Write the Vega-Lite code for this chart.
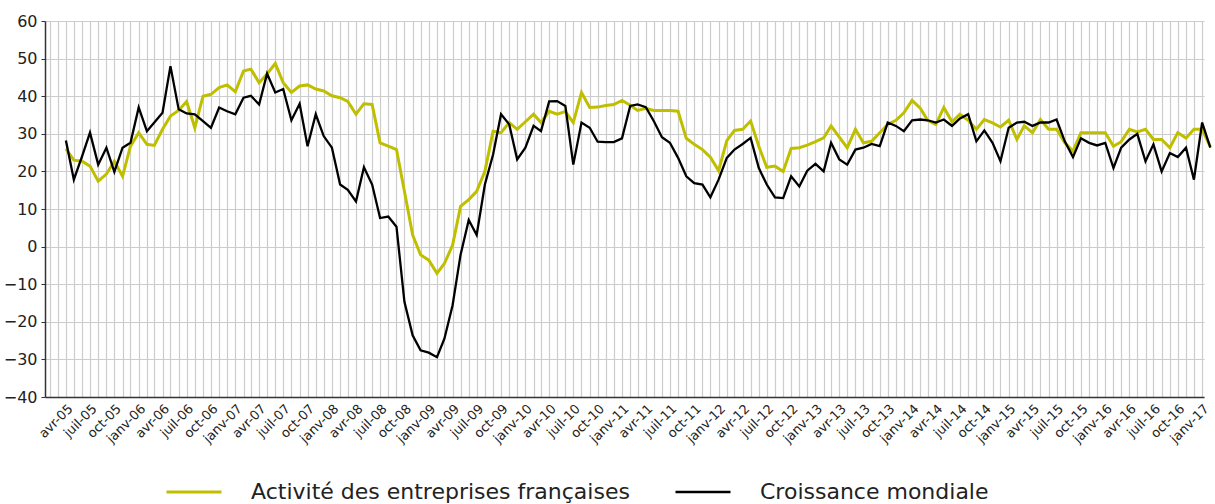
{
  "$schema": "https://vega.github.io/schema/vega-lite/v6.json",
  "width": 1159,
  "height": 376,
  "autosize": "none",
  "padding": {"left": 45, "top": 21, "right": 11, "bottom": 107},
  "background": "white",
  "config": {"font": "DejaVu Sans", "view": {"stroke": null}},
  "data": {"values": [
    {"date":"2005-04-01","Activité des entreprises françaises":26,"Croissance mondiale":28.2},
    {"date":"2005-05-01","Activité des entreprises françaises":23,"Croissance mondiale":17.8},
    {"date":"2005-06-01","Activité des entreprises françaises":22.7,"Croissance mondiale":24},
    {"date":"2005-07-01","Activité des entreprises françaises":21.4,"Croissance mondiale":30.3},
    {"date":"2005-08-01","Activité des entreprises françaises":17.4,"Croissance mondiale":21.8},
    {"date":"2005-09-01","Activité des entreprises françaises":19.3,"Croissance mondiale":26.3},
    {"date":"2005-10-01","Activité des entreprises françaises":22.7,"Croissance mondiale":19.9},
    {"date":"2005-11-01","Activité des entreprises françaises":18.7,"Croissance mondiale":26.3},
    {"date":"2005-12-01","Activité des entreprises françaises":26.7,"Croissance mondiale":27.6},
    {"date":"2006-01-01","Activité des entreprises françaises":30.3,"Croissance mondiale":37},
    {"date":"2006-02-01","Activité des entreprises françaises":27.2,"Croissance mondiale":30.7},
    {"date":"2006-03-01","Activité des entreprises françaises":26.9,"Croissance mondiale":33},
    {"date":"2006-04-01","Activité des entreprises françaises":31.2,"Croissance mondiale":35.6},
    {"date":"2006-05-01","Activité des entreprises françaises":34.7,"Croissance mondiale":48},
    {"date":"2006-06-01","Activité des entreprises françaises":36.2,"Croissance mondiale":36.5},
    {"date":"2006-07-01","Activité des entreprises françaises":38.6,"Croissance mondiale":35.4},
    {"date":"2006-08-01","Activité des entreprises françaises":31.6,"Croissance mondiale":35.2},
    {"date":"2006-09-01","Activité des entreprises françaises":40,"Croissance mondiale":33.4},
    {"date":"2006-10-01","Activité des entreprises françaises":40.5,"Croissance mondiale":31.6},
    {"date":"2006-11-01","Activité des entreprises françaises":42.3,"Croissance mondiale":37},
    {"date":"2006-12-01","Activité des entreprises françaises":43,"Croissance mondiale":36},
    {"date":"2007-01-01","Activité des entreprises françaises":41.2,"Croissance mondiale":35.2},
    {"date":"2007-02-01","Activité des entreprises françaises":46.7,"Croissance mondiale":39.6},
    {"date":"2007-03-01","Activité des entreprises françaises":47.2,"Croissance mondiale":40.1},
    {"date":"2007-04-01","Activité des entreprises françaises":43.6,"Croissance mondiale":37.8},
    {"date":"2007-05-01","Activité des entreprises françaises":45.9,"Croissance mondiale":46},
    {"date":"2007-06-01","Activité des entreprises françaises":48.7,"Croissance mondiale":41},
    {"date":"2007-07-01","Activité des entreprises françaises":43.6,"Croissance mondiale":41.9},
    {"date":"2007-08-01","Activité des entreprises françaises":41,"Croissance mondiale":33.6},
    {"date":"2007-09-01","Activité des entreprises françaises":42.7,"Croissance mondiale":38},
    {"date":"2007-10-01","Activité des entreprises françaises":43,"Croissance mondiale":26.7},
    {"date":"2007-11-01","Activité des entreprises françaises":41.9,"Croissance mondiale":35.2},
    {"date":"2007-12-01","Activité des entreprises françaises":41.4,"Croissance mondiale":29.4},
    {"date":"2008-01-01","Activité des entreprises françaises":40.1,"Croissance mondiale":26.3},
    {"date":"2008-02-01","Activité des entreprises françaises":39.6,"Croissance mondiale":16.5},
    {"date":"2008-03-01","Activité des entreprises françaises":38.6,"Croissance mondiale":15.1},
    {"date":"2008-04-01","Activité des entreprises françaises":35.2,"Croissance mondiale":12},
    {"date":"2008-05-01","Activité des entreprises françaises":38,"Croissance mondiale":21.1},
    {"date":"2008-06-01","Activité des entreprises françaises":37.8,"Croissance mondiale":16.5},
    {"date":"2008-07-01","Activité des entreprises françaises":27.6,"Croissance mondiale":7.6},
    {"date":"2008-08-01","Activité des entreprises françaises":26.7,"Croissance mondiale":8},
    {"date":"2008-09-01","Activité des entreprises françaises":25.8,"Croissance mondiale":5.3},
    {"date":"2008-10-01","Activité des entreprises françaises":14.7,"Croissance mondiale":-14.7},
    {"date":"2008-11-01","Activité des entreprises françaises":3.1,"Croissance mondiale":-23.6},
    {"date":"2008-12-01","Activité des entreprises françaises":-2.2,"Croissance mondiale":-27.6},
    {"date":"2009-01-01","Activité des entreprises françaises":-3.6,"Croissance mondiale":-28.2},
    {"date":"2009-02-01","Activité des entreprises françaises":-7.1,"Croissance mondiale":-29.4},
    {"date":"2009-03-01","Activité des entreprises françaises":-4.5,"Croissance mondiale":-24.5},
    {"date":"2009-04-01","Activité des entreprises françaises":0.4,"Croissance mondiale":-15.6},
    {"date":"2009-05-01","Activité des entreprises françaises":10.7,"Croissance mondiale":-2.2},
    {"date":"2009-06-01","Activité des entreprises françaises":12.5,"Croissance mondiale":7.1},
    {"date":"2009-07-01","Activité des entreprises françaises":14.7,"Croissance mondiale":3.1},
    {"date":"2009-08-01","Activité des entreprises françaises":20,"Croissance mondiale":16.5},
    {"date":"2009-09-01","Activité des entreprises françaises":30.7,"Croissance mondiale":24.5},
    {"date":"2009-10-01","Activité des entreprises françaises":30.3,"Croissance mondiale":35.2},
    {"date":"2009-11-01","Activité des entreprises françaises":33,"Croissance mondiale":32.5},
    {"date":"2009-12-01","Activité des entreprises françaises":31.2,"Croissance mondiale":23.2},
    {"date":"2010-01-01","Activité des entreprises françaises":33.2,"Croissance mondiale":26.3},
    {"date":"2010-02-01","Activité des entreprises françaises":35.2,"Croissance mondiale":32.1},
    {"date":"2010-03-01","Activité des entreprises françaises":33,"Croissance mondiale":30.7},
    {"date":"2010-04-01","Activité des entreprises françaises":36,"Croissance mondiale":38.6},
    {"date":"2010-05-01","Activité des entreprises françaises":35.2,"Croissance mondiale":38.7},
    {"date":"2010-06-01","Activité des entreprises françaises":35.9,"Croissance mondiale":37.4},
    {"date":"2010-07-01","Activité des entreprises françaises":33,"Croissance mondiale":21.8},
    {"date":"2010-08-01","Activité des entreprises françaises":41,"Croissance mondiale":33},
    {"date":"2010-09-01","Activité des entreprises françaises":37,"Croissance mondiale":31.6},
    {"date":"2010-10-01","Activité des entreprises françaises":37.1,"Croissance mondiale":27.9},
    {"date":"2010-11-01","Activité des entreprises françaises":37.5,"Croissance mondiale":27.8},
    {"date":"2010-12-01","Activité des entreprises françaises":37.8,"Croissance mondiale":27.8},
    {"date":"2011-01-01","Activité des entreprises françaises":38.9,"Croissance mondiale":28.8},
    {"date":"2011-02-01","Activité des entreprises françaises":37.6,"Croissance mondiale":37.4},
    {"date":"2011-03-01","Activité des entreprises françaises":36.2,"Croissance mondiale":37.8},
    {"date":"2011-04-01","Activité des entreprises françaises":36.8,"Croissance mondiale":37.1},
    {"date":"2011-05-01","Activité des entreprises françaises":36.2,"Croissance mondiale":33.4},
    {"date":"2011-06-01","Activité des entreprises françaises":36.2,"Croissance mondiale":29.1},
    {"date":"2011-07-01","Activité des entreprises françaises":36.2,"Croissance mondiale":27.6},
    {"date":"2011-08-01","Activité des entreprises françaises":36,"Croissance mondiale":23.6},
    {"date":"2011-09-01","Activité des entreprises françaises":28.8,"Croissance mondiale":18.7},
    {"date":"2011-10-01","Activité des entreprises françaises":27.2,"Croissance mondiale":16.9},
    {"date":"2011-11-01","Activité des entreprises françaises":25.8,"Croissance mondiale":16.5},
    {"date":"2011-12-01","Activité des entreprises françaises":23.8,"Croissance mondiale":13.1},
    {"date":"2012-01-01","Activité des entreprises françaises":20.2,"Croissance mondiale":17.8},
    {"date":"2012-02-01","Activité des entreprises françaises":28.2,"Croissance mondiale":23.6},
    {"date":"2012-03-01","Activité des entreprises françaises":30.9,"Croissance mondiale":25.8},
    {"date":"2012-04-01","Activité des entreprises françaises":31.2,"Croissance mondiale":27.3},
    {"date":"2012-05-01","Activité des entreprises françaises":33.4,"Croissance mondiale":28.9},
    {"date":"2012-06-01","Activité des entreprises françaises":26.7,"Croissance mondiale":20.9},
    {"date":"2012-07-01","Activité des entreprises françaises":21.1,"Croissance mondiale":16.5},
    {"date":"2012-08-01","Activité des entreprises françaises":21.4,"Croissance mondiale":13.1},
    {"date":"2012-09-01","Activité des entreprises françaises":20,"Croissance mondiale":12.9},
    {"date":"2012-10-01","Activité des entreprises françaises":26.1,"Croissance mondiale":18.7},
    {"date":"2012-11-01","Activité des entreprises françaises":26.3,"Croissance mondiale":16},
    {"date":"2012-12-01","Activité des entreprises françaises":27,"Croissance mondiale":20.2},
    {"date":"2013-01-01","Activité des entreprises françaises":27.9,"Croissance mondiale":22},
    {"date":"2013-02-01","Activité des entreprises françaises":28.9,"Croissance mondiale":20},
    {"date":"2013-03-01","Activité des entreprises françaises":32.1,"Croissance mondiale":27.6},
    {"date":"2013-04-01","Activité des entreprises françaises":29.1,"Croissance mondiale":23.2},
    {"date":"2013-05-01","Activité des entreprises françaises":26.3,"Croissance mondiale":21.8},
    {"date":"2013-06-01","Activité des entreprises françaises":31.2,"Croissance mondiale":25.8},
    {"date":"2013-07-01","Activité des entreprises françaises":27.6,"Croissance mondiale":26.3},
    {"date":"2013-08-01","Activité des entreprises françaises":28,"Croissance mondiale":27.3},
    {"date":"2013-09-01","Activité des entreprises françaises":30.3,"Croissance mondiale":26.7},
    {"date":"2013-10-01","Activité des entreprises françaises":32.5,"Croissance mondiale":33},
    {"date":"2013-11-01","Activité des entreprises françaises":33.6,"Croissance mondiale":32.1},
    {"date":"2013-12-01","Activité des entreprises françaises":35.6,"Croissance mondiale":30.7},
    {"date":"2014-01-01","Activité des entreprises françaises":38.9,"Croissance mondiale":33.6},
    {"date":"2014-02-01","Activité des entreprises françaises":36.8,"Croissance mondiale":33.8},
    {"date":"2014-03-01","Activité des entreprises françaises":33.6,"Croissance mondiale":33.6},
    {"date":"2014-04-01","Activité des entreprises françaises":32.5,"Croissance mondiale":33},
    {"date":"2014-05-01","Activité des entreprises françaises":37,"Croissance mondiale":33.8},
    {"date":"2014-06-01","Activité des entreprises françaises":33.2,"Croissance mondiale":32.1},
    {"date":"2014-07-01","Activité des entreprises françaises":35.2,"Croissance mondiale":34.1},
    {"date":"2014-08-01","Activité des entreprises françaises":33.6,"Croissance mondiale":35.2},
    {"date":"2014-09-01","Activité des entreprises françaises":31.2,"Croissance mondiale":28},
    {"date":"2014-10-01","Activité des entreprises françaises":33.8,"Croissance mondiale":30.9},
    {"date":"2014-11-01","Activité des entreprises françaises":32.9,"Croissance mondiale":27.6},
    {"date":"2014-12-01","Activité des entreprises françaises":31.8,"Croissance mondiale":22.7},
    {"date":"2015-01-01","Activité des entreprises françaises":33.6,"Croissance mondiale":31.6},
    {"date":"2015-02-01","Activité des entreprises françaises":28.5,"Croissance mondiale":33},
    {"date":"2015-03-01","Activité des entreprises françaises":32.1,"Croissance mondiale":33.2},
    {"date":"2015-04-01","Activité des entreprises françaises":30.3,"Croissance mondiale":32.1},
    {"date":"2015-05-01","Activité des entreprises françaises":33.8,"Croissance mondiale":33},
    {"date":"2015-06-01","Activité des entreprises françaises":31.2,"Croissance mondiale":33},
    {"date":"2015-07-01","Activité des entreprises françaises":31.2,"Croissance mondiale":33.8},
    {"date":"2015-08-01","Activité des entreprises françaises":27.6,"Croissance mondiale":28},
    {"date":"2015-09-01","Activité des entreprises françaises":25.4,"Croissance mondiale":23.8},
    {"date":"2015-10-01","Activité des entreprises françaises":30.3,"Croissance mondiale":28.8},
    {"date":"2015-11-01","Activité des entreprises françaises":30.3,"Croissance mondiale":27.6},
    {"date":"2015-12-01","Activité des entreprises françaises":30.3,"Croissance mondiale":26.9},
    {"date":"2016-01-01","Activité des entreprises françaises":30.3,"Croissance mondiale":27.6},
    {"date":"2016-02-01","Activité des entreprises françaises":26.7,"Croissance mondiale":20.9},
    {"date":"2016-03-01","Activité des entreprises françaises":27.9,"Croissance mondiale":26.3},
    {"date":"2016-04-01","Activité des entreprises françaises":31.2,"Croissance mondiale":28.5},
    {"date":"2016-05-01","Activité des entreprises françaises":30.5,"Croissance mondiale":30},
    {"date":"2016-06-01","Activité des entreprises françaises":31.2,"Croissance mondiale":22.7},
    {"date":"2016-07-01","Activité des entreprises françaises":28.5,"Croissance mondiale":27.2},
    {"date":"2016-08-01","Activité des entreprises françaises":28.5,"Croissance mondiale":20},
    {"date":"2016-09-01","Activité des entreprises françaises":26.3,"Croissance mondiale":24.9},
    {"date":"2016-10-01","Activité des entreprises françaises":30.3,"Croissance mondiale":23.8},
    {"date":"2016-11-01","Activité des entreprises françaises":28.9,"Croissance mondiale":26.3},
    {"date":"2016-12-01","Activité des entreprises françaises":31.2,"Croissance mondiale":17.8},
    {"date":"2017-01-01","Activité des entreprises françaises":31.2,"Croissance mondiale":33},
    {"date":"2017-02-01","Activité des entreprises françaises":26.5,"Croissance mondiale":26.3}
  ]},
  "transform": [
    {"fold": ["Activité des entreprises françaises", "Croissance mondiale"], "as": ["series", "value"]}
  ],
  "mark": {"type": "line", "interpolate": "linear"},
  "encoding": {
    "x": {
      "field": "date",
      "type": "temporal",
      "scale": {
        "type": "utc",
        "domain": [
          {"year": 2005, "month": 1, "date": 12, "utc": true},
          {"year": 2017, "month": 1, "date": 8, "utc": true}
        ]
      },
      "axis": {
        "title": null,
        "tickCount": {"interval": "month", "step": 1},
        "labelExpr": "utcmonth(datum.value) % 3 == 0 ? ['janv','avr','juil','oct'][utcmonth(datum.value) / 3] + '-' + utcFormat(datum.value, '%y') : ''",
        "labelAngle": -45,
        "labelFontSize": 13,
        "labelOverlap": false,
        "labelFlush": false,
        "labelColor": "#222222",
        "labelPadding": 5,
        "grid": true,
        "gridColor": "#cccccc",
        "gridWidth": 1.2,
        "ticks": false,
        "domainColor": "#333333",
        "domainWidth": 1.5
      }
    },
    "y": {
      "field": "value",
      "type": "quantitative",
      "scale": {"domain": [-40, 60], "nice": false, "zero": false},
      "axis": {
        "title": null,
        "values": [-40, -30, -20, -10, 0, 10, 20, 30, 40, 50, 60],
        "grid": true,
        "gridColor": "#cccccc",
        "gridWidth": 1.2,
        "labelFontSize": 16,
        "labelColor": "#222222",
        "labelPadding": 4,
        "tickSize": 4,
        "tickColor": "#333333",
        "domainColor": "#333333",
        "domainWidth": 1.5
      }
    },
    "color": {
      "field": "series",
      "type": "nominal",
      "scale": {
        "domain": ["Activité des entreprises françaises", "Croissance mondiale"],
        "range": ["#bfbf00", "#000000"]
      },
      "legend": {
        "title": null,
        "orient": "none",
        "legendX": 120,
        "legendY": 442,
        "direction": "horizontal",
        "symbolType": "stroke",
        "symbolSize": 3025,
        "symbolStrokeWidth": 5,
        "labelFontSize": 22,
        "labelColor": "#222222",
        "labelOffset": 28,
        "columnPadding": 40,
        "labelLimit": 0
      }
    },
    "strokeWidth": {
      "field": "series",
      "type": "nominal",
      "scale": {
        "domain": ["Activité des entreprises françaises", "Croissance mondiale"],
        "range": [3, 2.3]
      },
      "legend": null
    }
  }
}
